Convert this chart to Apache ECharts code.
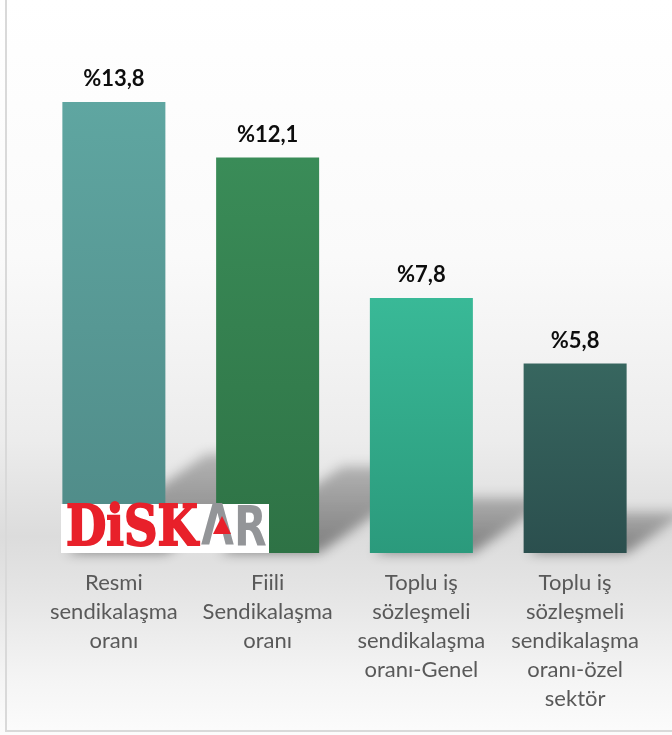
<!DOCTYPE html>
<html>
<head>
<meta charset="utf-8">
<script src="https://cdn.jsdelivr.net/npm/echarts@6/dist/echarts.min.js"></script>
<style>
  html, body { margin: 0; padding: 0; background: #fff; }
  #chart {
    width: 672px;
    height: 735px;
    background: linear-gradient(to bottom, #ffffff 0%, #fafafa 35%, #ececec 60%, #dcdcdc 73%, #e4e4e4 80%, #f4f4f4 92%, #fcfcfc 100%);
  }
</style>
</head>
<body>
<div id="chart"></div>
<script>
const categories = [
  'Resmi\nsendikalaşma\noranı',
  'Fiili\nSendikalaşma\noranı',
  'Toplu iş\nsözleşmeli\nsendikalaşma\noranı-Genel',
  'Toplu iş\nsözleşmeli\nsendikalaşma\noranı-özel\nsektör'
];
const values = [13.8, 12.1, 7.8, 5.8];
const barColors = [
  ['#5fa6a1', '#4f8a87'],
  ['#3a8c58', '#2e7245'],
  ['#39b997', '#2b9a7c'],
  ['#37665f', '#2b4f4e']
];

const chart = echarts.init(document.getElementById('chart'));

const BAR_RATIO = 0.67;
const OFF = 3000; // shape drawn off-canvas, only its blurred shadow lands on the chart

function shadowItem(params, api) {
  const i = api.value(0);
  const top = api.coord([i, api.value(1)]);
  const base = api.coord([i, 0]);
  const bw = api.size([1, 0])[0] * BAR_RATIO;
  const x0 = base[0] - bw / 2 - OFF;
  const x1 = base[0] + bw / 2 - OFF;
  const h = (base[1] - top[1]) * 0.22;
  const dx = h * 1.45;
  return {
    type: 'polygon',
    shape: {
      points: [[x0 + 4, base[1]], [x1, base[1]], [x1 + dx, base[1] - h], [x0 + dx, base[1] - h]]
    },
    style: {
      fill: new echarts.graphic.LinearGradient(0, 1, 0, 0, [
        { offset: 0, color: 'rgba(0,0,0,1)' },
        { offset: 1, color: 'rgba(0,0,0,0.55)' }
      ]),
      shadowBlur: 12,
      shadowOffsetX: OFF,
      shadowColor: 'rgba(0,0,0,0.42)'
    }
  };
}

const option = {
  backgroundColor: 'transparent',
  animation: false,
  grid: { left: 37, right: 20, top: 30, bottom: 182 },
  xAxis: {
    type: 'category',
    data: categories,
    axisLine: { show: false },
    axisTick: { show: false },
    axisLabel: {
      interval: 0,
      margin: 15,
      color: '#595959',
      fontFamily: 'Lato',
      fontSize: 22,
      lineHeight: 29
    }
  },
  yAxis: {
    type: 'value',
    min: 0,
    max: 16,
    show: false
  },
  series: [
    {
      type: 'custom',
      renderItem: shadowItem,
      data: values.map((v, i) => [i, v]),
      encode: { x: 0, y: 1 },
      z: 1,
      silent: true
    },
    {
      type: 'bar',
      barWidth: (BAR_RATIO * 100) + '%',
      z: 2,
      data: values.map((v, i) => ({
        value: v,
        itemStyle: {
          color: new echarts.graphic.LinearGradient(0, 0, 0, 1, [
            { offset: 0, color: barColors[i][0] },
            { offset: 1, color: barColors[i][1] }
          ])
        }
      })),
      label: {
        show: true,
        position: 'top',
        distance: 12,
        color: '#0d0d0d',
        fontFamily: 'Lato',
        fontWeight: 'bold',
        fontSize: 22,
        formatter: p => '%' + String(p.value).replace('.', ',')
      }
    }
  ],
  graphic: [
    {
      type: 'rect',
      z: 0,
      silent: true,
      shape: { x: 6, y: -10, width: 700, height: 741 },
      style: { fill: 'none', stroke: '#d9d9d9', lineWidth: 2 }
    },
    {
      type: 'rect',
      z: 100,
      shape: { x: 61, y: 504, width: 208, height: 49 },
      style: { fill: '#ffffff' }
    },
    {
      type: 'text',
      z: 101,
      x: 66,
      y: 530,
      scaleX: 0.83,
      style: {
        text: 'DiSK',
        fill: '#e8202a',
        stroke: '#e8202a',
        lineWidth: 2,
        font: 'bold 56px "DejaVu Serif"',
        verticalAlign: 'middle'
      }
    },
    {
      type: 'text',
      z: 101,
      x: 201,
      y: 530,
      scaleX: 0.76,
      style: {
        text: 'ΛR',
        fill: '#939598',
        font: 'bold 56px "DejaVu Sans"',
        verticalAlign: 'middle'
      }
    },
    {
      type: 'polygon',
      z: 102,
      shape: { points: [[213, 534], [231, 534], [222, 516]] },
      style: { fill: '#e8202a' }
    }
  ]
};

chart.setOption(option);
</script>
</body>
</html>
